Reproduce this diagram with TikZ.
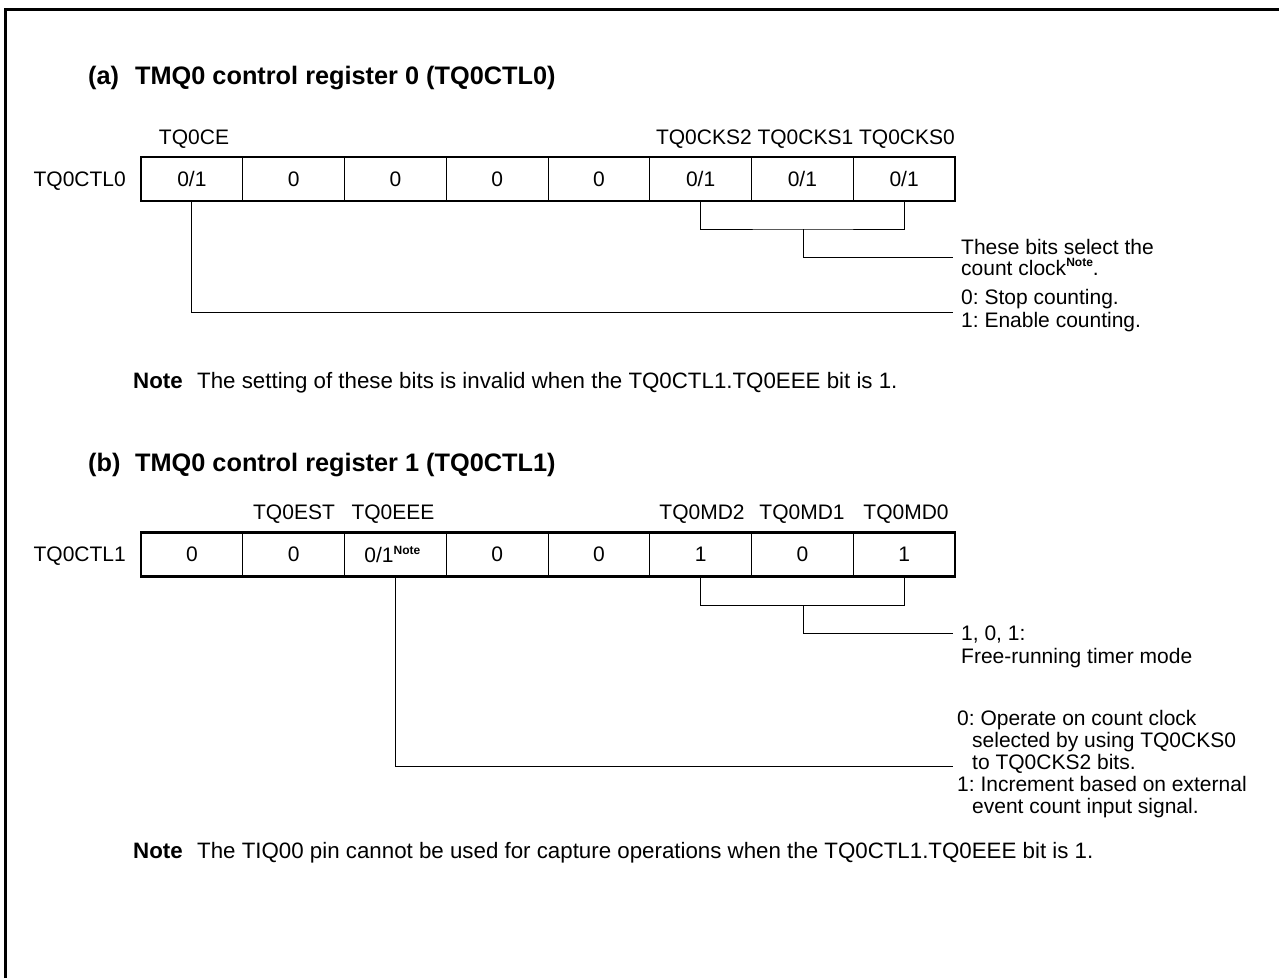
\documentclass[tikz,border=0pt]{standalone}
\usepackage{fontspec}
\setmainfont{Liberation Sans}
\frenchspacing
\newcommand{\notesup}{\raisebox{8.5pt}{\fontsize{12}{12}\selectfont\bfseries Note}}
\begin{document}
\begin{tikzpicture}[x=1pt,y=-1pt,
  body/.style={font=\fontsize{21}{22}\selectfont, inner sep=0pt},
  txt/.style={body, anchor=base west},
  ntxt/.style={txt, font=\fontsize{22.3}{24}\selectfont},
  bnote/.style={txt, font=\fontsize{22.3}{24}\selectfont\bfseries},
  ttl/.style={font=\fontsize{25.3}{27}\selectfont\bfseries, inner sep=0pt, anchor=base west},
  cell/.style={body, draw, line width=0.9pt, minimum width=101.75pt, minimum height=44pt, outer sep=0pt},
  regbox/.style={draw, line width=2.6pt},
  lead/.style={line width=0.9pt},
  frm/.style={line width=3pt}]
\useasboundingbox (0,0) rectangle (1279,978);
\draw[frm] (5.5,978) -- (5.5,9.5) -- (1279,9.5);

% ---------- (a) ----------
\node[ttl] (ta) at (88,84) {(a)};
\node[ttl] (tt) at (135,84) {TMQ0 control register 0 (TQ0CTL0)};
\node[body, anchor=base] (lce) at (194,144) {TQ0CE};
\node[body, anchor=base east] (lcks) at (955,144) {TQ0CKS2 TQ0CKS1 TQ0CKS0};
\node[body, anchor=base east] (lr0) at (126,186) {TQ0CTL0};
\node[cell] (t7) at (191.875,179) {0/1};
\node[cell] (t6) at (293.625,179) {0};
\node[cell] (t5) at (395.375,179) {0};
\node[cell] (t4) at (497.125,179) {0};
\node[cell] (t3) at (598.875,179) {0};
\node[cell] (t2) at (700.625,179) {0/1};
\node[cell] (t1) at (802.375,179) {0/1};
\node[cell] (t0) at (904.125,179) {0/1};
\draw[regbox] (t7.north west) rectangle (t0.south east);
\coordinate (tmid) at (803.5,229);
\coordinate (tend1) at (953,257);
\coordinate (tend2) at (953,312);
\draw[lead] (t2.south) |- (tmid) -| (t0.south);
\draw[lead] (tmid) |- (tend1);
\draw[lead] (t7.south) |- (tend2);
\node[txt] (d1) at (961,254) {These bits select the};
\node[txt] (d2) at (961,275) {count clock\notesup.};
\node[txt] (d3) at (961,304) {0: Stop counting.};
\node[txt] (d4) at (961,327) {1: Enable counting.};
\node[bnote] (n1) at (133,388) {Note};
\node[ntxt] (n1t) at (197,388) {The setting of these bits is invalid when the TQ0CTL1.TQ0EEE bit is 1.};

% ---------- (b) ----------
\node[ttl] (tb) at (88,471) {(b)};
\node[ttl] (tbt) at (135,471) {TMQ0 control register 1 (TQ0CTL1)};
\node[body, anchor=base] (lest) at (294,519) {TQ0EST};
\node[body, anchor=base] (leee) at (393,519) {TQ0EEE};
\node[body, anchor=base] (lmd2) at (702,519) {TQ0MD2};
\node[body, anchor=base] (lmd1) at (802,519) {TQ0MD1};
\node[body, anchor=base] (lmd0) at (906,519) {TQ0MD0};
\node[body, anchor=base east] (lr1) at (126,561) {TQ0CTL1};
\node[cell] (b7) at (191.875,554.5) {0};
\node[cell] (b6) at (293.625,554.5) {0};
\node[cell] (b5) at (395.375,554.5) {\hspace*{-6pt}0/1\notesup};
\node[cell] (b4) at (497.125,554.5) {0};
\node[cell] (b3) at (598.875,554.5) {0};
\node[cell] (b2) at (700.625,554.5) {1};
\node[cell] (b1) at (802.375,554.5) {0};
\node[cell] (b0) at (904.125,554.5) {1};
\draw[regbox] (b7.north west) rectangle (b0.south east);
\coordinate (bmid) at (803.5,605);
\coordinate (bend1) at (953,633);
\coordinate (bend2) at (953,766);
\draw[lead] (b2.south) |- (bmid) -| (b0.south);
\draw[lead] (bmid) |- (bend1);
\draw[lead] (b5.south) |- (bend2);
\node[txt] (e1) at (961,640) {1, 0, 1:};
\node[txt] (e2) at (961,663) {Free-running timer mode};
\node[txt] (e3) at (957,725) {0: Operate on count clock};
\node[txt] (e4) at (972,747) {selected by using TQ0CKS0};
\node[txt] (e5) at (972,769) {to TQ0CKS2 bits.};
\node[txt] (e6) at (957,791) {1: Increment based on external};
\node[txt] (e7) at (972,813) {event count input signal.};
\node[bnote] (n2) at (133,858) {Note};
\node[ntxt] (n2t) at (197,858) {The TIQ00 pin cannot be used for capture operations when the TQ0CTL1.TQ0EEE bit is 1.};
\end{tikzpicture}
\end{document}
